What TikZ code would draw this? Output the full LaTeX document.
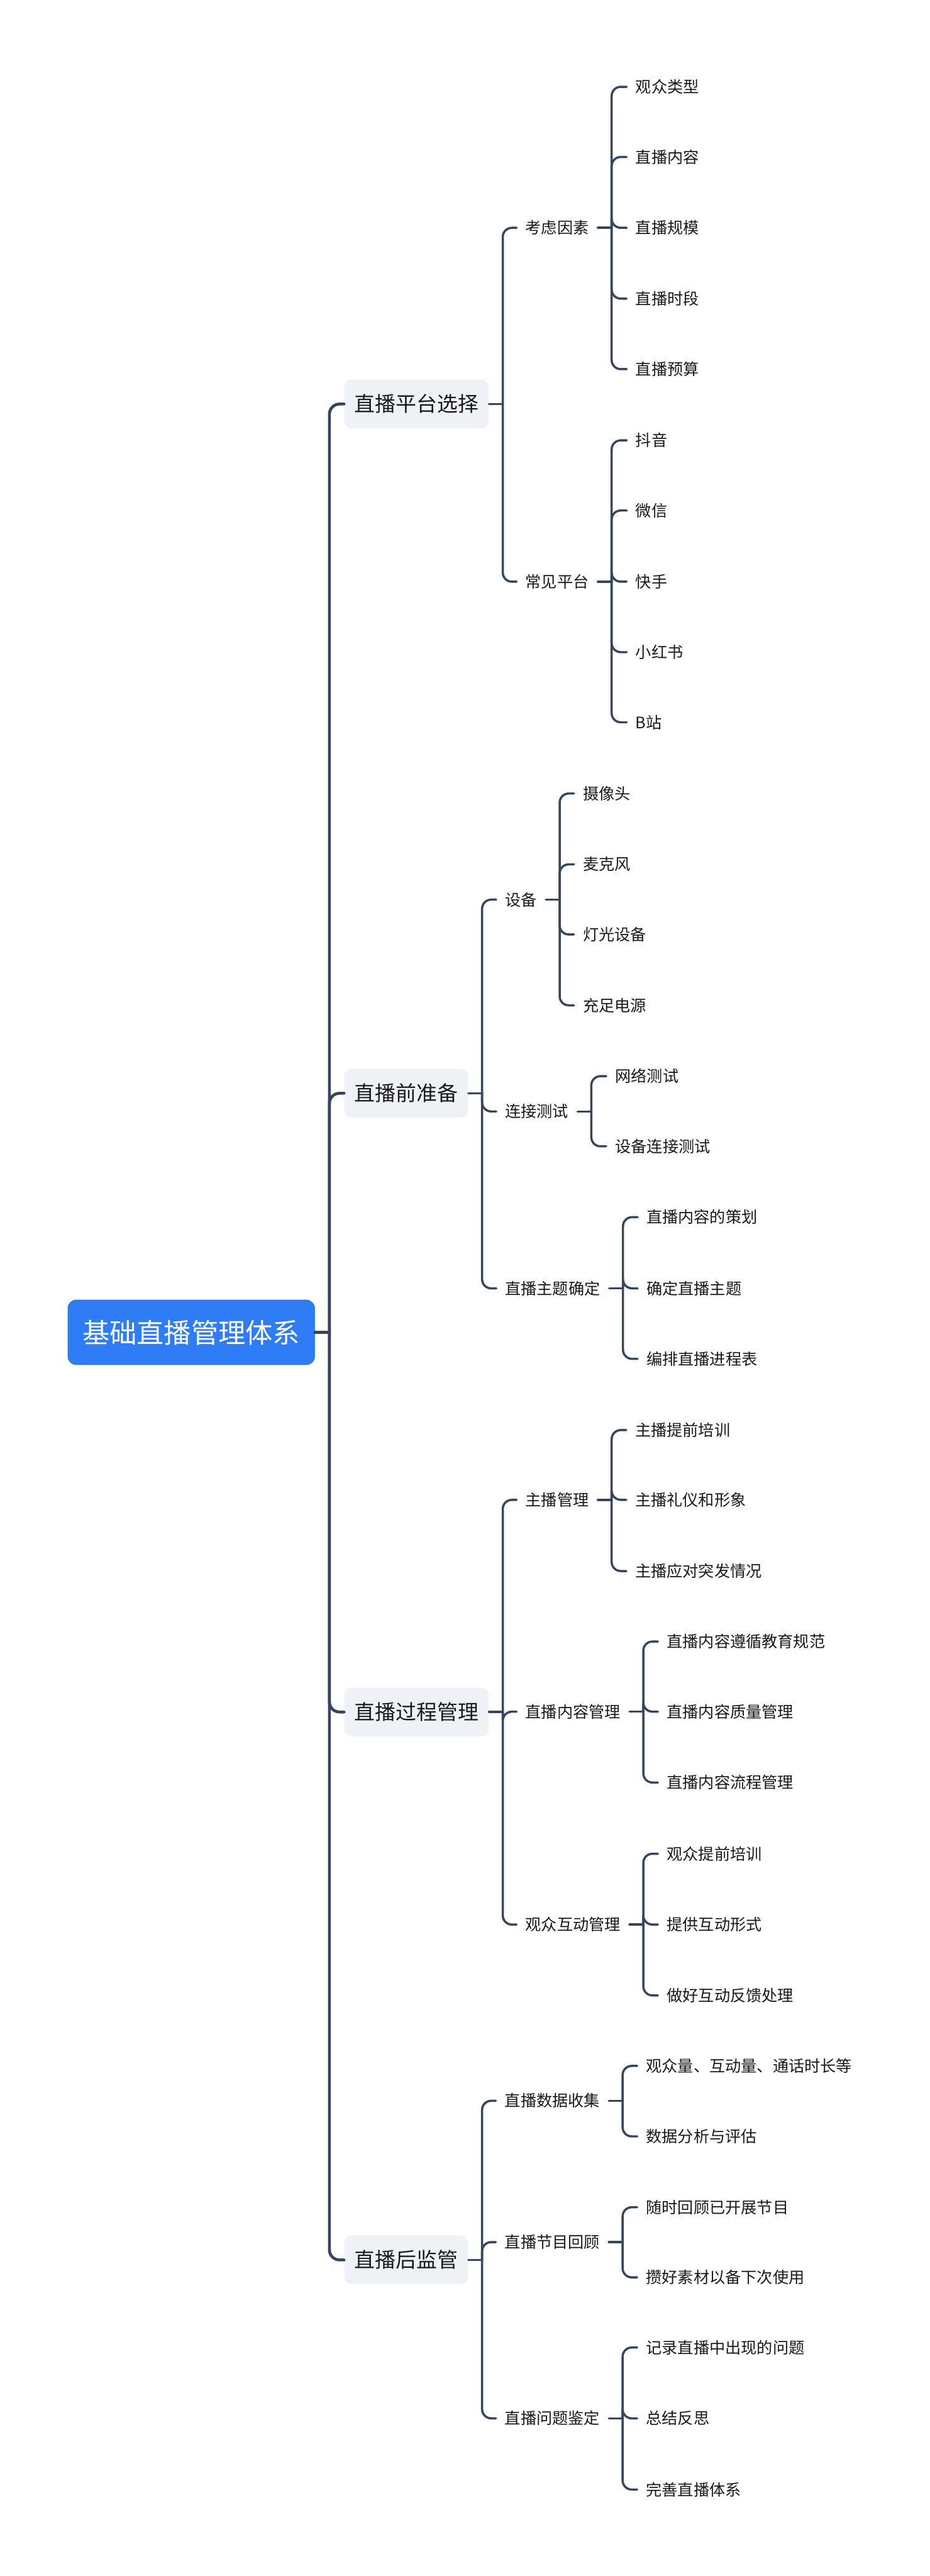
\documentclass[tikz,border=0pt]{standalone}
\usepackage{fontspec}
\newfontfamily\cjk{Noto Sans CJK SC}
\usepackage{xcolor}
\usepackage{tikz}

\definecolor{linecol}{HTML}{34455E}
\definecolor{rootblue}{HTML}{2E7CF6}
\definecolor{topicgray}{HTML}{EEF1F5}
\definecolor{txt}{HTML}{1A1A1A}

\begin{document}
\begin{tikzpicture}[
  root/.style={draw=rootblue!85!black, fill=rootblue, rounded corners=0.23cm, text=white, minimum width=6.79cm, minimum height=1.78cm, font=\cjk\fontsize{21.3}{25}\selectfont},
  topic/.style={fill=topicgray, rounded corners=0.2cm, anchor=west, minimum height=1.34cm, inner xsep=0.28cm, text=txt, font=\cjk\fontsize{16.2}{19}\selectfont},
  branch/.style={anchor=west, inner xsep=0.24cm, text=txt, font=\cjk\fontsize{12.4}{15}\selectfont},
  leaf/.style={anchor=west, inner xsep=0.24cm, text=txt, font=\cjk\fontsize{12.4}{15}\selectfont},
  trunk/.style={draw=linecol, line width=0.08cm, line cap=round, rounded corners=0.28cm},
  link/.style={draw=linecol, line width=0.06cm, line cap=round, rounded corners=0.25cm}
]
\fill[white] (0,0) rectangle (25.6,-70.9);
% root and main topics
\node[root] (root) at (5.265,-36.67) {基础直播管理体系};
\node[topic] (plat) at (9.47,-11.12) {直播平台选择};
\node[topic] (prep) at (9.47,-30.09) {直播前准备};
\node[topic] (proc) at (9.47,-47.12) {直播过程管理};
\node[topic] (post) at (9.47,-62.20) {直播后监管};
% 直播平台选择
\node[branch] (factor) at (14.22,-6.27) {考虑因素};
\node[branch] (common) at (14.22,-16.01) {常见平台};
\node[leaf] (audtype) at (17.25,-2.39) {观众类型};
\node[leaf] (content) at (17.25,-4.32) {直播内容};
\node[leaf] (scale) at (17.25,-6.27) {直播规模};
\node[leaf] (slot) at (17.25,-8.22) {直播时段};
\node[leaf] (budget) at (17.25,-10.16) {直播预算};
\node[leaf] (douyin) at (17.25,-12.12) {抖音};
\node[leaf] (wechat) at (17.25,-14.05) {微信};
\node[leaf] (kuaishou) at (17.25,-16.01) {快手};
\node[leaf] (xhs) at (17.25,-17.95) {小红书};
\node[leaf] (bili) at (17.25,-19.88) {B站};
% 直播前准备
\node[branch] (device) at (13.66,-24.76) {设备};
\node[branch] (conn) at (13.66,-30.59) {连接测试};
\node[branch] (theme) at (13.66,-35.46) {直播主题确定};
\node[leaf] (camera) at (15.80,-21.84) {摄像头};
\node[leaf] (mic) at (15.80,-23.79) {麦克风};
\node[leaf] (light) at (15.80,-25.72) {灯光设备};
\node[leaf] (power) at (15.80,-27.67) {充足电源};
\node[leaf] (net) at (16.69,-29.62) {网络测试};
\node[leaf] (devtest) at (16.69,-31.55) {设备连接测试};
\node[leaf] (plan) at (17.55,-33.50) {直播内容的策划};
\node[leaf] (fixtheme) at (17.55,-35.46) {确定直播主题};
\node[leaf] (sched) at (17.55,-37.40) {编排直播进程表};
% 直播过程管理
\node[branch] (host) at (14.22,-41.28) {主播管理};
\node[branch] (ctmgmt) at (14.22,-47.11) {直播内容管理};
\node[branch] (interact) at (14.22,-52.97) {观众互动管理};
\node[leaf] (train) at (17.24,-39.36) {主播提前培训};
\node[leaf] (manner) at (17.24,-41.28) {主播礼仪和形象};
\node[leaf] (emerg) at (17.24,-43.24) {主播应对突发情况};
\node[leaf] (norm) at (18.11,-45.18) {直播内容遵循教育规范};
\node[leaf] (quality) at (18.11,-47.11) {直播内容质量管理};
\node[leaf] (flow) at (18.11,-49.06) {直播内容流程管理};
\node[leaf] (audtrain) at (18.11,-51.02) {观众提前培训};
\node[leaf] (form) at (18.11,-52.97) {提供互动形式};
\node[leaf] (feedback) at (18.11,-54.92) {做好互动反馈处理};
% 直播后监管
\node[branch] (data) at (13.65,-57.82) {直播数据收集};
\node[branch] (review) at (13.65,-61.71) {直播节目回顾};
\node[branch] (issue) at (13.65,-66.56) {直播问题鉴定};
\node[leaf] (metric) at (17.54,-56.86) {观众量、互动量、通话时长等};
\node[leaf] (analyse) at (17.54,-58.80) {数据分析与评估};
\node[leaf] (recall) at (17.54,-60.75) {随时回顾已开展节目};
\node[leaf] (material) at (17.54,-62.68) {攒好素材以备下次使用};
\node[leaf] (record) at (17.54,-64.61) {记录直播中出现的问题};
\node[leaf] (reflect) at (17.54,-66.56) {总结反思};
\node[leaf] (improve) at (17.54,-68.52) {完善直播体系};
% trunk
\draw[trunk] (root.east) -- ++(0.40,0) coordinate (rootv);
\draw[trunk] (rootv) |- (plat.west);
\draw[trunk] (rootv) |- (prep.west);
\draw[trunk] (rootv) |- (proc.west);
\draw[trunk] (rootv) |- (post.west);
% 直播平台选择
\draw[link] (plat.east) -- ++(0.38,0) coordinate (platv);
\draw[link] (platv) |- (factor.west);
\draw[link] (platv) |- (common.west);
\draw[link] (factor.east) -- ++(0.38,0) coordinate (factorv);
\draw[link] (factorv) |- (audtype.west);
\draw[link] (factorv) |- (content.west);
\draw[link] (factorv) |- (scale.west);
\draw[link] (factorv) |- (slot.west);
\draw[link] (factorv) |- (budget.west);
\draw[link] (common.east) -- ++(0.38,0) coordinate (commonv);
\draw[link] (commonv) |- (douyin.west);
\draw[link] (commonv) |- (wechat.west);
\draw[link] (commonv) |- (kuaishou.west);
\draw[link] (commonv) |- (xhs.west);
\draw[link] (commonv) |- (bili.west);
% 直播前准备
\draw[link] (prep.east) -- ++(0.38,0) coordinate (prepv);
\draw[link] (prepv) |- (device.west);
\draw[link] (prepv) |- (conn.west);
\draw[link] (prepv) |- (theme.west);
\draw[link] (device.east) -- ++(0.38,0) coordinate (devicev);
\draw[link] (devicev) |- (camera.west);
\draw[link] (devicev) |- (mic.west);
\draw[link] (devicev) |- (light.west);
\draw[link] (devicev) |- (power.west);
\draw[link] (conn.east) -- ++(0.38,0) coordinate (connv);
\draw[link] (connv) |- (net.west);
\draw[link] (connv) |- (devtest.west);
\draw[link] (theme.east) -- ++(0.38,0) coordinate (themev);
\draw[link] (themev) |- (plan.west);
\draw[link] (themev) |- (fixtheme.west);
\draw[link] (themev) |- (sched.west);
% 直播过程管理
\draw[link] (proc.east) -- ++(0.38,0) coordinate (procv);
\draw[link] (procv) |- (host.west);
\draw[link] (procv) |- (ctmgmt.west);
\draw[link] (procv) |- (interact.west);
\draw[link] (host.east) -- ++(0.38,0) coordinate (hostv);
\draw[link] (hostv) |- (train.west);
\draw[link] (hostv) |- (manner.west);
\draw[link] (hostv) |- (emerg.west);
\draw[link] (ctmgmt.east) -- ++(0.38,0) coordinate (ctmgmtv);
\draw[link] (ctmgmtv) |- (norm.west);
\draw[link] (ctmgmtv) |- (quality.west);
\draw[link] (ctmgmtv) |- (flow.west);
\draw[link] (interact.east) -- ++(0.38,0) coordinate (interactv);
\draw[link] (interactv) |- (audtrain.west);
\draw[link] (interactv) |- (form.west);
\draw[link] (interactv) |- (feedback.west);
% 直播后监管
\draw[link] (post.east) -- ++(0.38,0) coordinate (postv);
\draw[link] (postv) |- (data.west);
\draw[link] (postv) |- (review.west);
\draw[link] (postv) |- (issue.west);
\draw[link] (data.east) -- ++(0.38,0) coordinate (datav);
\draw[link] (datav) |- (metric.west);
\draw[link] (datav) |- (analyse.west);
\draw[link] (review.east) -- ++(0.38,0) coordinate (reviewv);
\draw[link] (reviewv) |- (recall.west);
\draw[link] (reviewv) |- (material.west);
\draw[link] (issue.east) -- ++(0.38,0) coordinate (issuev);
\draw[link] (issuev) |- (record.west);
\draw[link] (issuev) |- (reflect.west);
\draw[link] (issuev) |- (improve.west);
\end{tikzpicture}
\end{document}
